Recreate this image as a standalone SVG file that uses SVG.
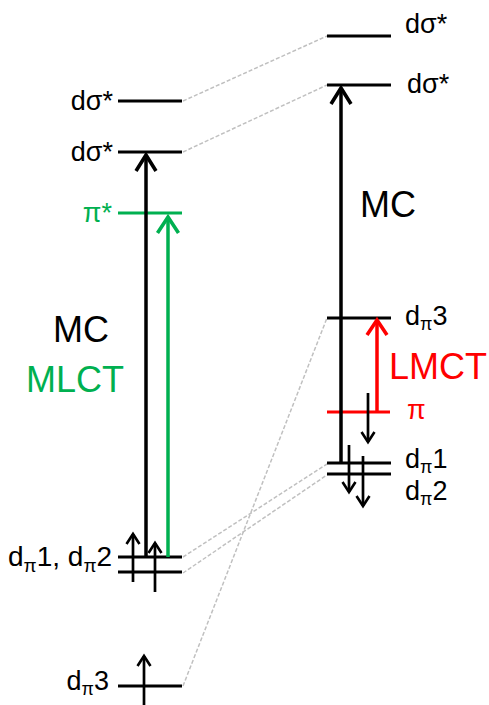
<svg xmlns="http://www.w3.org/2000/svg" width="489" height="705" viewBox="0 0 489 705">
<style>
text{font-family:"Liberation Sans",Arial,sans-serif;fill:#000}
.lbl{font-size:27px}
.big{font-size:36px}
.sub{font-size:18px}
.g{fill:#00b050}
.r{fill:#ff0000}
.lvl{stroke:#000;stroke-width:3.2}
.lvlg{stroke:#00b050;stroke-width:3.2}
.lvlr{stroke:#ff0000;stroke-width:3.2}
.conn{stroke:#c0c0c0;stroke-width:1.5;stroke-dasharray:4 2;fill:none}
.arB{stroke:#000;stroke-width:3.5;marker-end:url(#hB)}
.arG{stroke:#00b050;stroke-width:3.5;marker-end:url(#hG)}
.arR{stroke:#ff0000;stroke-width:3.5;marker-end:url(#hR)}
.arS{stroke:#000;stroke-width:2.7;marker-end:url(#hS)}
</style>
<defs>
<marker id="hB" markerUnits="userSpaceOnUse" viewBox="-22 -13 26 26" refX="0" refY="0" markerWidth="26" markerHeight="26" orient="auto"><path d="M-16,-10 L0,0 L-16,10" fill="none" stroke="#000" stroke-width="3.6"/></marker>
<marker id="hG" markerUnits="userSpaceOnUse" viewBox="-22 -13 26 26" refX="0" refY="0" markerWidth="26" markerHeight="26" orient="auto"><path d="M-16,-10.5 L0,0 L-16,10.5" fill="none" stroke="#00b050" stroke-width="3.6"/></marker>
<marker id="hR" markerUnits="userSpaceOnUse" viewBox="-22 -13 26 26" refX="0" refY="0" markerWidth="26" markerHeight="26" orient="auto"><path d="M-15,-10 L0,0 L-15,10" fill="none" stroke="#ff0000" stroke-width="3.6"/></marker>
<marker id="hS" markerUnits="userSpaceOnUse" viewBox="-14 -9 18 18" refX="0" refY="0" markerWidth="18" markerHeight="18" orient="auto"><path d="M-10,-6.5 L0,0 L-10,6.5" fill="none" stroke="#000" stroke-width="2.6"/></marker>
</defs>

<g id="connectors">
<line class="conn" x1="183" y1="101" x2="327" y2="36"/>
<line class="conn" x1="183" y1="152" x2="327" y2="85"/>
<line class="conn" x1="183" y1="557" x2="327" y2="464"/>
<line class="conn" x1="183" y1="573" x2="327" y2="475"/>
<line class="conn" x1="183" y1="686" x2="327" y2="318"/>
</g>

<g id="left-dsigma-top">
<line class="lvl" x1="118" y1="101" x2="182" y2="101"/>
<text class="lbl" x="113" y="110" text-anchor="end">dσ*</text>
</g>
<g id="left-dsigma-2">
<line class="lvl" x1="118" y1="152" x2="182" y2="152"/>
<text class="lbl" x="113" y="161" text-anchor="end">dσ*</text>
</g>
<g id="left-pistar">
<line class="lvlg" x1="118" y1="213" x2="182" y2="213"/>
<text class="lbl g" x="112" y="222" text-anchor="end">π*</text>
</g>
<g id="left-dpi12">
<line class="lvl" x1="118" y1="557" x2="182" y2="557"/>
<line class="lvl" x1="118" y1="572" x2="182" y2="572"/>
<text class="lbl" x="8" y="566" style="font-size:28px">d<tspan class="sub" dy="6" style="font-size:19px">π</tspan><tspan dy="-6">1, d</tspan><tspan class="sub" dy="6" style="font-size:19px">π</tspan><tspan dy="-6">2</tspan></text>
<line class="arS" x1="133" y1="582" x2="133" y2="534"/>
<line class="arS" x1="155" y1="592" x2="155" y2="543"/>
</g>
<g id="left-dpi3">
<line class="lvl" x1="118" y1="686" x2="182" y2="686"/>
<text class="lbl" x="109" y="690" text-anchor="end">d<tspan class="sub" dy="5">π</tspan><tspan dy="-5">3</tspan></text>
<line class="arS" x1="144" y1="705" x2="144" y2="656"/>
</g>
<g id="left-transitions">
<line class="arB" x1="146" y1="557" x2="146" y2="155"/>
<line class="arG" x1="168" y1="557" x2="168" y2="217"/>
<text class="big" x="81" y="342" text-anchor="middle">MC</text>
<text class="big g" x="75" y="392" text-anchor="middle">MLCT</text>
</g>

<g id="right-dsigma-top">
<line class="lvl" x1="327" y1="36" x2="391" y2="36"/>
<text class="lbl" x="405" y="33">dσ*</text>
</g>
<g id="right-dsigma-2">
<line class="lvl" x1="327" y1="85" x2="391" y2="85"/>
<text class="lbl" x="407" y="93">dσ*</text>
</g>
<g id="right-dpi3">
<line class="lvl" x1="327" y1="318" x2="391" y2="318"/>
<text class="lbl" x="405" y="325">d<tspan class="sub" dy="5">π</tspan><tspan dy="-5">3</tspan></text>
</g>
<g id="right-pi">
<line class="lvlr" x1="327" y1="412" x2="390" y2="412"/>
<text class="lbl r" x="407" y="419">π</text>
<line class="arS" x1="368" y1="393" x2="368" y2="442"/>
</g>
<g id="right-dpi12">
<line class="lvl" x1="327" y1="463" x2="391" y2="463"/>
<line class="lvl" x1="327" y1="474" x2="391" y2="474"/>
<text class="lbl" x="405" y="468">d<tspan class="sub" dy="5">π</tspan><tspan dy="-5">1</tspan></text>
<text class="lbl" x="405" y="500">d<tspan class="sub" dy="5">π</tspan><tspan dy="-5">2</tspan></text>
<line class="arS" x1="349" y1="445" x2="349" y2="492"/>
<line class="arS" x1="363" y1="456" x2="363" y2="506"/>
</g>
<g id="right-transitions">
<line class="arB" x1="341" y1="463" x2="341" y2="88"/>
<line class="arR" x1="377" y1="412" x2="377" y2="320"/>
<text class="big" x="360" y="217">MC</text>
<text class="big r" x="389" y="379">LMCT</text>
</g>
</svg>
